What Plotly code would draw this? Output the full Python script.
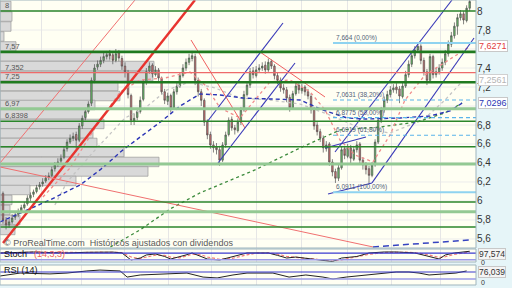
import plotly.graph_objects as go

# ---------------- price data (daily candles) ----------------
opens = [6.08, 5.80, 5.75, 5.78, 5.83, 5.86, 5.89, 5.93, 5.97, 6.03,
         6.07, 6.10, 6.15, 6.18, 6.21, 6.25, 6.27, 6.34, 6.39, 6.42,
         6.46, 6.55, 6.62, 6.66, 6.70, 6.64, 6.79, 6.88, 6.94, 7.03,
         7.27, 7.41, 7.44, 7.48, 7.52, 7.55, 7.54, 7.48, 7.56, 7.50,
         7.42, 7.35, 7.11, 6.84, 6.88, 6.94, 7.07, 7.25, 7.37, 7.43,
         7.33, 7.38, 7.29, 7.15, 7.05, 7.11, 6.98, 7.15, 7.21, 7.32,
         7.40, 7.46, 7.50, 7.52, 7.27, 7.15, 7.06, 6.83, 6.70, 6.59,
         6.57, 6.54, 6.43, 6.59, 6.70, 6.86, 6.77, 6.74, 6.83, 6.96,
         7.12, 7.22, 7.37, 7.32, 7.38, 7.40, 7.43, 7.38, 7.47, 7.42,
         7.32, 7.27, 7.19, 7.17, 7.09, 6.98, 7.13, 7.22, 7.16, 7.20,
         7.15, 7.10, 6.96, 6.80, 6.73, 6.66, 6.55, 6.60, 6.41, 6.31,
         6.24, 6.35, 6.55, 6.47, 6.56, 6.44, 6.54, 6.60, 6.43, 6.38,
         6.34, 6.27, 6.38, 6.62, 6.85, 6.96, 7.06, 7.12, 7.17, 7.20,
         7.18, 7.10, 7.21, 7.33, 7.44, 7.53, 7.59, 7.63, 7.48, 7.36,
         7.27, 7.52, 7.33, 7.36, 7.40, 7.46, 7.55, 7.65, 7.74, 7.84,
         7.93, 7.97, 7.90, 8.03]
highs = [6.10, 5.83, 5.81, 5.86, 5.88, 5.92, 5.96, 5.99, 6.06, 6.09,
         6.12, 6.17, 6.20, 6.24, 6.27, 6.30, 6.36, 6.41, 6.45, 6.49,
         6.57, 6.65, 6.70, 6.72, 6.73, 6.82, 6.90, 6.98, 7.05, 7.30,
         7.44, 7.48, 7.52, 7.56, 7.58, 7.59, 7.56, 7.60, 7.59, 7.53,
         7.46, 7.38, 7.13, 6.92, 6.98, 7.10, 7.28, 7.40, 7.46, 7.45,
         7.42, 7.40, 7.31, 7.18, 7.14, 7.13, 7.18, 7.25, 7.35, 7.44,
         7.50, 7.55, 7.58, 7.55, 7.30, 7.18, 7.08, 6.86, 6.73, 6.63,
         6.61, 6.58, 6.62, 6.73, 6.88, 6.89, 6.80, 6.87, 6.99, 7.16,
         7.26, 7.40, 7.41, 7.42, 7.44, 7.46, 7.47, 7.50, 7.49, 7.44,
         7.35, 7.30, 7.23, 7.20, 7.12, 7.16, 7.25, 7.24, 7.23, 7.22,
         7.18, 7.13, 6.99, 6.83, 6.76, 6.69, 6.63, 6.62, 6.44, 6.34,
         6.38, 6.57, 6.58, 6.60, 6.59, 6.58, 6.63, 6.62, 6.46, 6.41,
         6.37, 6.41, 6.65, 6.88, 6.99, 7.10, 7.16, 7.21, 7.23, 7.24,
         7.21, 7.25, 7.37, 7.48, 7.57, 7.63, 7.67, 7.65, 7.51, 7.39,
         7.55, 7.54, 7.40, 7.44, 7.50, 7.59, 7.69, 7.78, 7.88, 7.97,
         8.01, 8.00, 8.06, 8.14]
lows = [5.76, 5.70, 5.72, 5.76, 5.80, 5.83, 5.87, 5.91, 5.95, 6.00,
        6.04, 6.08, 6.12, 6.15, 6.19, 6.22, 6.25, 6.31, 6.36, 6.40,
        6.44, 6.52, 6.60, 6.63, 6.55, 6.62, 6.76, 6.85, 6.92, 7.00,
        7.24, 7.38, 7.41, 7.45, 7.49, 7.49, 7.44, 7.46, 7.47, 7.38,
        7.30, 7.08, 6.80, 6.80, 6.85, 6.92, 7.05, 7.22, 7.34, 7.30,
        7.31, 7.26, 7.12, 7.02, 7.01, 6.93, 6.96, 7.12, 7.19, 7.30,
        7.37, 7.43, 7.47, 7.22, 7.10, 7.00, 6.79, 6.65, 6.55, 6.51,
        6.49, 6.37, 6.41, 6.56, 6.68, 6.74, 6.70, 6.72, 6.80, 6.94,
        7.10, 7.19, 7.29, 7.30, 7.35, 7.37, 7.34, 7.36, 7.39, 7.28,
        7.23, 7.15, 7.13, 7.04, 6.94, 6.96, 7.11, 7.13, 7.13, 7.11,
        7.07, 6.92, 6.75, 6.69, 6.62, 6.51, 6.52, 6.37, 6.26, 6.19,
        6.21, 6.33, 6.44, 6.45, 6.40, 6.42, 6.51, 6.39, 6.33, 6.28,
        6.18, 6.25, 6.36, 6.60, 6.82, 6.93, 7.03, 7.09, 7.14, 7.13,
        7.03, 7.08, 7.19, 7.30, 7.41, 7.50, 7.56, 7.44, 7.32, 7.22,
        7.25, 7.29, 7.30, 7.33, 7.37, 7.43, 7.52, 7.62, 7.71, 7.75,
        7.90, 7.86, 7.88, 8.00]
closes = [5.80, 5.75, 5.78, 5.82, 5.85, 5.885, 5.93, 5.96, 6.03, 6.06,
          6.095, 6.14, 6.17, 6.20, 6.24, 6.26, 6.33, 6.38, 6.41, 6.45,
          6.54, 6.62, 6.66, 6.68, 6.64, 6.79, 6.87, 6.94, 7.02, 7.27,
          7.40, 7.44, 7.48, 7.52, 7.54, 7.53, 7.48, 7.55, 7.505, 7.42,
          7.36, 7.12, 6.85, 6.87, 6.94, 7.06, 7.25, 7.36, 7.42, 7.34,
          7.38, 7.295, 7.15, 7.06, 7.105, 6.98, 7.15, 7.21, 7.32, 7.40,
          7.46, 7.505, 7.53, 7.27, 7.15, 7.06, 6.83, 6.695, 6.59, 6.56,
          6.54, 6.43, 6.59, 6.695, 6.85, 6.77, 6.75, 6.83, 6.96, 7.12,
          7.22, 7.36, 7.33, 7.38, 7.40, 7.42, 7.38, 7.46, 7.42, 7.32,
          7.27, 7.19, 7.17, 7.085, 6.98, 7.13, 7.21, 7.17, 7.19, 7.15,
          7.105, 6.96, 6.79, 6.73, 6.66, 6.56, 6.59, 6.41, 6.305, 6.24,
          6.35, 6.54, 6.48, 6.56, 6.45, 6.54, 6.59, 6.43, 6.38, 6.33,
          6.27, 6.38, 6.62, 6.85, 6.96, 7.06, 7.12, 7.17, 7.19, 7.17,
          7.105, 7.21, 7.33, 7.44, 7.53, 7.59, 7.63, 7.48, 7.36, 7.27,
          7.52, 7.33, 7.36, 7.40, 7.46, 7.55, 7.65, 7.74, 7.84, 7.93,
          7.97, 7.905, 8.03, 8.10]
idx = list(range(len(closes)))

# ---------------- moving averages (read at sample bars) ----------------
ma_blue_x = [-1, 5.6, 15.4, 25.3, 31.8, 39.3, 45.9, 52.5, 58.0, 64.6, 71.2, 78.7, 87.5, 97.4, 104.9, 112.8, 118.7, 130.2, 140.0, 146.6, 150.5]
ma_blue_y = [5.779, 5.874, 6.011, 6.169, 6.327, 6.537, 6.695, 6.853, 6.999, 7.127, 7.116, 7.084, 7.074, 7.063, 6.958, 6.874, 6.863, 6.874, 6.895, 6.948, 7.0296]
ma_green_x = [31.8, 35.1, 44.9, 54.8, 64.6, 82.6, 97.4, 110.5, 123.6, 135.7, 144.9, 150.5]
ma_green_y = [5.453, 5.516, 5.695, 5.916, 6.085, 6.327, 6.558, 6.748, 6.779, 6.832, 6.927, 7.032]
ma_grey_x = [17.0, 21.0, 30.2, 40.0, 46.6, 53.8, 61.3, 69.5, 77.7, 87.5, 97.4, 107.2, 117.0, 126.9, 137.7, 144.9, 150.5]
ma_grey_y = [5.958, 6.200, 6.537, 6.874, 6.979, 7.169, 7.253, 7.190, 7.084, 7.063, 7.021, 6.905, 6.769, 6.716, 6.853, 7.063, 7.2561]
ma_pink_x = [13.1, 22.0, 30.2, 38.4, 44.9, 53.1, 61.3, 66.2, 71.2, 77.7, 82.6, 87.5, 94.1, 100.7, 105.6, 110.5, 115.4, 121.3, 126.9, 131.8, 138.4, 144.9, 153.1]
ma_pink_y = [6.042, 6.348, 6.769, 7.148, 7.274, 7.295, 7.358, 7.221, 6.979, 6.874, 7.063, 7.253, 7.274, 7.148, 6.958, 6.642, 6.484, 6.411, 6.695, 7.063, 7.327, 7.463, 7.6271]

# ---------------- volume-by-price profile ----------------
profile_levels = [8.053, 7.942, 7.837, 7.732, 7.627, 7.521, 7.421, 7.316, 7.211, 7.105, 7.011, 6.911,
                  6.811, 6.711, 6.611, 6.516, 6.411, 6.311, 6.211, 6.116, 6.011, 5.905, 5.800, 5.695]
profile_volume = [11, 12, 11, 4, 16, 110, 154, 153, 118, 120, 95, 86,
                  104, 93, 97, 124, 159, 148, 76, 30, 12, 10, 20, 15]

# ---------------- horizontal levels ----------------
level_values = [8.0, 7.57, 7.352, 7.25, 6.97, 6.8398, 6.57, 6.39, 5.99, 5.886, 5.726]
level_kinds = ["dark", "thick", "red", "thick", "light", "dark", "dark", "light", "dark", "light", "dark"]
labelled_levels = [8.0, 7.57, 7.352, 7.25, 6.97, 6.8398]

# ---------------- Fibonacci retracement ----------------
fib_values = [7.664, 7.0631, 6.8775, 6.6919, 6.0911]
fib_pcts = ["0,00%", "38,20%", "50,00%", "61,80%", "100,00%"]
fib_start = 108.2

# ---------------- trend lines (bar index, price) ----------------
trend_lines = [
    ((0.0, 5.558), (62.95, 8.116), "#e8342f", 2.4, "solid"),
    ((-0.98, 6.400), (43.28, 8.116), "#f07070", 1.0, "solid"),
    ((-0.98, 6.358), (121.31, 5.516), "#f07070", 1.0, "solid"),
    ((121.31, 5.516), (153.11, 5.590), "#3543c0", 1.5, "6px,4px"),
    ((61.64, 7.695), (79.34, 6.769), "#f06060", 1.0, "solid"),
    ((84.26, 7.569), (105.57, 7.095), "#f06060", 1.0, "solid"),
    ((66.89, 6.832), (91.80, 7.874), "#3a3ab8", 1.1, "solid"),
    ((70.49, 6.400), (95.74, 7.453), "#3a3ab8", 1.1, "solid"),
    ((105.57, 6.558), (119.02, 6.674), "#3a3ab8", 1.1, "solid"),
    ((106.56, 6.074), (120.98, 6.190), "#3a3ab8", 1.1, "solid"),
    ((120.98, 6.190), (154.43, 7.716), "#3a3ab8", 1.1, "solid"),
    ((108.85, 6.516), (147.21, 8.116), "#3a3ab8", 1.1, "solid"),
]

# ---------------- oscillators ----------------
stoch_x = [-1, 5, 10, 16, 21, 27, 32, 36, 39, 42, 45, 47, 50, 53, 55, 58, 60, 62, 65, 67, 71, 75, 80, 83, 87, 90, 93,
           96, 100, 103, 106, 108, 111, 114, 116, 120, 125, 129, 132, 135, 139, 143, 145, 148, 153]
stoch_k = [82, 88, 91, 85, 82, 88, 91, 90, 82, 18, 36, 64, 73, 50, 27, 45, 64, 82, 50, 27, 18, 45, 82, 82, 82, 60, 36,
           45, 30, 18, 8, 4, 36, 45, 50, 82, 91, 91, 88, 82, 55, 27, 64, 82, 97.574]
stoch_d = [80, 86, 89, 88, 84, 86, 89, 90, 86, 45, 30, 45, 62, 60, 45, 38, 52, 70, 65, 45, 25, 32, 65, 80, 82, 72, 50,
           42, 38, 25, 14, 8, 20, 35, 45, 70, 86, 90, 89, 85, 68, 42, 48, 70, 90]
rsi_x = [-1, 5.6, 15.4, 21, 27.5, 31.8, 38.4, 40.7, 45, 51.5, 60.3, 65.6, 70.2, 75.4, 80, 83, 88.5, 93.8, 99.3,
         104.9, 108.2, 112.5, 119, 124.6, 128.9, 133.1, 136.4, 139.7, 144.3, 148.5, 152]
rsi_vals = [47, 64, 59, 64, 76, 81, 76, 41, 53, 59, 64, 41, 36, 53, 64, 64, 64, 41, 53,
            41, 30, 41, 53, 64, 70, 70, 64, 53, 59, 64, 76.039]

grid_idx = [12.7, 25.8, 40.0, 54.1, 68.4, 82.95, 97.9, 112.8, 127.4, 143.3]
# 7,6 and 7 sit under the value boxes in the reference, so they are not labelled
price_ticks = [5.6, 5.8, 6.0, 6.2, 6.4, 6.6, 6.8, 7.2, 7.4, 7.8, 8.0]
grid_prices = [5.6, 5.8, 6.0, 6.2, 6.4, 6.6, 6.8, 7.0, 7.2, 7.4, 7.6, 7.8, 8.0]


def fmt(v):
    s = ("%g" % v)
    return s.replace(".", ",")


FONT = "Liberation Sans, Arial, sans-serif"
XR = 476 / 512
MAIN = [1 - 248 / 288, 1]
STO = [1 - 262 / 288, 1 - 249 / 288]
RSI = [1 - 285 / 288, 1 - 265 / 288]
XRANGE = [-0.98, 155.08]
YRANGE = [5.505, 8.116]

fig = go.Figure()

fig.add_trace(go.Bar(x=profile_volume, y=profile_levels, orientation="h", width=0.1,
                     marker=dict(color="#d9d9d9", line=dict(color="#9a9a9a", width=0.7)),
                     xaxis="x", yaxis="y", hoverinfo="skip"))

fig.add_trace(go.Candlestick(x=idx, open=opens, high=highs, low=lows, close=closes,
                             xaxis="x2", yaxis="y", whiskerwidth=0,
                             increasing=dict(fillcolor="#66c466", line=dict(color="#505050", width=0.7)),
                             decreasing=dict(fillcolor="#d47070", line=dict(color="#505050", width=0.7)),
                             hoverinfo="skip"))

for xs, ys, col, dash, w in [(ma_grey_x, ma_grey_y, "#c4c4c4", "3px,3px", 1.3),
                             (ma_green_x, ma_green_y, "#3b8a3b", "3px,3px", 1.3),
                             (ma_blue_x, ma_blue_y, "#2b35b5", "4px,3px", 1.4),
                             (ma_pink_x, ma_pink_y, "#f08c8c", "3px,3px", 1.3)]:
    fig.add_trace(go.Scatter(x=xs, y=ys, mode="lines", line=dict(color=col, dash=dash, width=w),
                             xaxis="x2", yaxis="y", hoverinfo="skip"))

for (p0, p1, col, w, dash) in trend_lines:
    fig.add_trace(go.Scatter(x=[p0[0], p1[0]], y=[p0[1], p1[1]], mode="lines",
                             line=dict(color=col, width=w, dash=dash), xaxis="x2", yaxis="y", hoverinfo="skip"))

# oscillators
fig.add_trace(go.Scatter(x=stoch_x, y=stoch_d, mode="lines", line=dict(color="#f07a7a", width=1.2, dash="3px,2px"),
                         xaxis="x3", yaxis="y3", hoverinfo="skip"))
fig.add_trace(go.Scatter(x=stoch_x, y=stoch_k, mode="lines", line=dict(color="#222222", width=1),
                         xaxis="x3", yaxis="y3", hoverinfo="skip"))
fig.add_trace(go.Scatter(x=rsi_x, y=rsi_vals, mode="lines", line=dict(color="#222222", width=1),
                         xaxis="x4", yaxis="y4", hoverinfo="skip"))

shapes = []
# faint horizontal price grid
for v in grid_prices:
    shapes.append(dict(type="line", xref="paper", x0=0, x1=XR, yref="y", y0=v, y1=v, layer="below",
                       line=dict(color="#ececec", width=1)))
style = {"dark": ("#2b862b", 1.5), "thick": ("#1f7a1f", 2.6), "red": ("#ee6a6a", 1.2), "light": ("#93c993", 3.0)}
for v, k in zip(level_values, level_kinds):
    c, w = style[k]
    shapes.append(dict(type="line", xref="paper", x0=0, x1=XR, yref="y", y0=v, y1=v, line=dict(color=c, width=w)))
for v, p in zip(fib_values, fib_pcts):
    solid = p in ("0,00%", "100,00%")
    shapes.append(dict(type="line", xref="x2", x0=fib_start, x1=XRANGE[1], yref="y", y0=v, y1=v,
                       line=dict(color="#8fd3f0" if solid else "#5ab4ea", width=2 if solid else 1.2,
                                 dash="solid" if solid else "4px,3px")))
# oscillator reference lines
for yref, hi, lo in [("y3", 80, 20), ("y4", 70, 30)]:
    shapes.append(dict(type="line", xref="paper", x0=0, x1=XR, yref=yref, y0=hi, y1=hi, line=dict(color="#3a3ad0", width=1.2)))
    shapes.append(dict(type="line", xref="paper", x0=0, x1=XR, yref=yref, y0=lo, y1=lo, line=dict(color="#9a9ae8", width=1.6)))
# panel borders
for dom in (MAIN, STO, RSI):
    shapes.append(dict(type="rect", xref="paper", yref="paper", x0=0, x1=XR, y0=dom[0], y1=dom[1],
                       line=dict(color="#9fb5bd", width=1), fillcolor="rgba(0,0,0,0)"))

ann = []
for v in labelled_levels:
    ann.append(dict(xref="paper", yref="y", x=0.006, y=v, yanchor="bottom", xanchor="left", text=fmt(v),
                    showarrow=False, font=dict(size=7.5, color="#555", family=FONT), yshift=-1))
for v, p in zip(fib_values, fib_pcts):
    ann.append(dict(xref="x2", yref="y", x=fib_start + 0.4, y=v, yanchor="bottom", xanchor="left",
                    text="%s (%s)" % (fmt(v), p), showarrow=False,
                    font=dict(size=6.5, color="#52627a", family=FONT), yshift=-1))
ann.append(dict(xref="paper", yref="paper", x=0.004, y=1 - 243 / 288, xanchor="left", yanchor="middle",
                text="© ProRealTime.com  Históricos ajustados con dividendos", showarrow=False,
                font=dict(size=9, color="#5a5a5a", family=FONT)))
# right-side value boxes
for v, col, bc, ys in [(ma_pink_y[-1], "#e23c3c", "#c8c8c8", 0), (ma_grey_y[-1], "#b5b5b5", "#d0d0d0", 2),
                       (ma_blue_y[-1], "#2b35b5", "#c8c8c8", 0)]:
    ann.append(dict(xref="paper", yref="y", x=XR + 0.004, y=v, xanchor="left", yanchor="middle", text=fmt(v),
                    showarrow=False, bgcolor="#ffffff", bordercolor=bc, borderwidth=1, borderpad=0, yshift=ys,
                    font=dict(size=9, color=col, family=FONT)))
ann.append(dict(xref="paper", yref="paper", x=XR + 0.004, y=1 - 254 / 288, xanchor="left", yanchor="middle",
                text=fmt(stoch_k[-1]), showarrow=False, bgcolor="#f4f4f4", bordercolor="#c8c8c8", borderwidth=1,
                borderpad=0, font=dict(size=8.5, color="#333", family=FONT)))
ann.append(dict(xref="paper", yref="paper", x=XR + 0.004, y=1 - 272.3 / 288, xanchor="left", yanchor="middle",
                text=fmt(rsi_vals[-1]), showarrow=False, bgcolor="#f4f4f4", bordercolor="#c8c8c8", borderwidth=1,
                borderpad=0, font=dict(size=8.5, color="#333", family=FONT)))
for yy in (1 - 262.3 / 288, 1 - 282.5 / 288):
    ann.append(dict(xref="paper", yref="paper", x=XR + 0.006, y=yy, xanchor="left", yanchor="middle", text="0",
                    showarrow=False, font=dict(size=7, color="#333", family=FONT)))
ann.append(dict(xref="paper", yref="paper", x=0.004, y=1 - 254 / 288, xanchor="left", yanchor="middle",
                text="Stoch", showarrow=False, font=dict(size=9, color="#111", family=FONT)))
ann.append(dict(xref="paper", yref="paper", x=0.062, y=1 - 254 / 288, xanchor="left", yanchor="middle",
                text="(14,3,3)", showarrow=False, font=dict(size=9, color="#f06060", family=FONT)))
ann.append(dict(xref="paper", yref="paper", x=0.004, y=1 - 269.5 / 288, xanchor="left", yanchor="middle",
                text="RSI (14)", showarrow=False, font=dict(size=9, color="#111", family=FONT)))

xgrid = dict(domain=[0, XR], range=XRANGE, showgrid=True, gridcolor="#e6e6e6", gridwidth=1, tickvals=grid_idx,
             showticklabels=False, ticks="", zeroline=False, showline=False, fixedrange=True)

fig.update_layout(
    width=512, height=288, margin=dict(l=0, r=0, t=0, b=0),
    paper_bgcolor="#e6f5f8", plot_bgcolor="#fffff3", showlegend=False,
    font=dict(family=FONT),
    shapes=shapes, annotations=ann,
    xaxis=dict(domain=[0, XR], range=[0, 476], visible=False, anchor="y", fixedrange=True,
               rangeslider=dict(visible=False)),
    xaxis2=dict(xgrid, overlaying="x", anchor="y", rangeslider=dict(visible=False)),
    yaxis=dict(domain=MAIN, range=YRANGE, side="right", anchor="x", tickvals=price_ticks,
               ticktext=[fmt(v) for v in price_ticks], showgrid=False, zeroline=False,
               ticks="", tickfont=dict(size=10, color="#333", family=FONT), fixedrange=True),
    xaxis3=dict(xgrid, anchor="y3"),
    yaxis3=dict(domain=STO, range=[0, 118], anchor="x3", showgrid=False, showticklabels=False, zeroline=False,
                ticks="", fixedrange=True),
    xaxis4=dict(xgrid, anchor="y4"),
    yaxis4=dict(domain=RSI, range=[-4.3, 110], anchor="x4", showgrid=False, showticklabels=False, zeroline=False,
                ticks="", fixedrange=True),
)

fig.write_html("out.html")
